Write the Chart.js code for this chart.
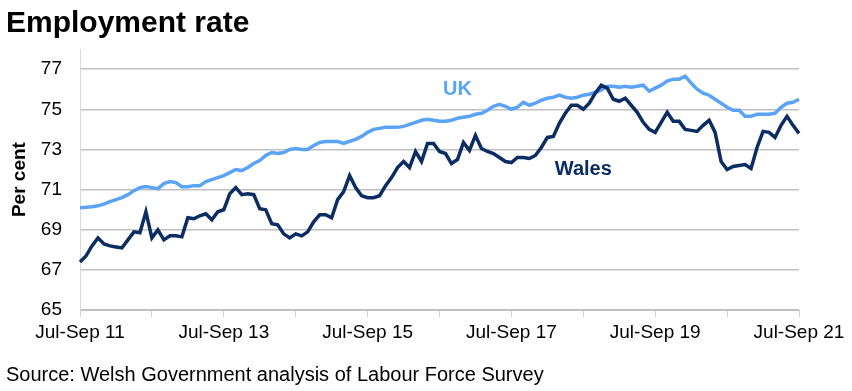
<!DOCTYPE html>
<html>
<head>
<meta charset="utf-8">
<script src="https://cdn.jsdelivr.net/npm/chart.js@4"></script>
<style>
  body { margin: 0; background: #fff; }
  #wrap { width: 852px; height: 391px; }
</style>
</head>
<body>
<div id="wrap"><canvas id="employment_chart" width="852" height="391"></canvas></div>
<script>
  // rolling three-month periods, Jul-Sep 2011 to Jul-Sep 2021
  const periods = ['Jul-Sep', 'Aug-Oct', 'Sep-Nov', 'Oct-Dec', 'Nov-Jan', 'Dec-Feb',
                   'Jan-Mar', 'Feb-Apr', 'Mar-May', 'Apr-Jun', 'May-Jul', 'Jun-Aug']
  const firstYear = 11
  const lastYear = 21

  const labels = []
  for (let y = firstYear; y <= lastYear; y++) {
    periods.forEach((p, i) => {
      if (y === lastYear && i > 0) return
      // periods ending in the next calendar year carry that year
      labels.push(p + ' ' + (i >= 4 ? y + 1 : y))
    })
  }

  const yTicks = [65, 67, 69, 71, 73, 75, 77]

  const wales = [
    67.4, 67.7, 68.2, 68.6, 68.3, 68.2, 68.15, 68.1, 68.5, 68.9,
    68.85, 69.9, 68.6, 69.0, 68.5, 68.7, 68.7, 68.65, 69.6, 69.55,
    69.7, 69.8, 69.5, 69.9, 70.0, 70.8, 71.1, 70.75, 70.8, 70.75,
    70.05, 70.0, 69.3, 69.25, 68.8, 68.6, 68.8, 68.7, 68.9, 69.4,
    69.75, 69.75, 69.6, 70.5, 70.9, 71.7, 71.1, 70.7, 70.6, 70.6,
    70.7, 71.2, 71.6, 72.1, 72.4, 72.1, 72.9, 72.4, 73.3, 73.3,
    72.9, 72.8, 72.3, 72.5, 73.35, 72.95, 73.7, 73.05, 72.9, 72.8,
    72.6, 72.4, 72.35, 72.6, 72.6, 72.55, 72.7, 73.1, 73.6, 73.65,
    74.3, 74.8, 75.2, 75.2, 75.0, 75.3, 75.8, 76.2, 76.05, 75.5,
    75.4, 75.55, 75.2, 74.85, 74.35, 74.0, 73.85, 74.35, 74.85, 74.4,
    74.4, 74.0, 73.95, 73.9, 74.2, 74.45, 73.85, 72.4, 72.0, 72.15,
    72.2, 72.25, 72.05, 73.1, 73.9, 73.85, 73.6, 74.2, 74.65, 74.2,
    73.8
  ]

  const uk = [
    70.1, 70.12, 70.15, 70.2, 70.28, 70.4, 70.5, 70.6, 70.75, 70.95,
    71.1, 71.15, 71.1, 71.05, 71.3, 71.4, 71.35, 71.15, 71.15, 71.2,
    71.2, 71.4, 71.5, 71.6, 71.7, 71.85, 72.0, 71.95, 72.1, 72.3,
    72.45, 72.7, 72.85, 72.8, 72.85, 73.0, 73.05, 73.0, 73.0, 73.2,
    73.35, 73.4, 73.4, 73.4, 73.3, 73.4, 73.5, 73.65, 73.85, 74.0,
    74.05, 74.1, 74.1, 74.1, 74.15, 74.25, 74.35, 74.45, 74.5, 74.45,
    74.4, 74.4, 74.45, 74.55, 74.6, 74.65, 74.75, 74.8, 74.95, 75.15,
    75.25, 75.15, 75.0, 75.1, 75.35, 75.2, 75.3, 75.45, 75.55, 75.6,
    75.7, 75.6, 75.55, 75.6, 75.7, 75.75, 75.85, 75.95, 76.15, 76.15,
    76.1, 76.15, 76.1, 76.15, 76.2, 75.9, 76.05, 76.2, 76.4, 76.5,
    76.5, 76.65, 76.3, 76.0, 75.8, 75.7, 75.5, 75.3, 75.1, 74.95,
    74.95, 74.65, 74.65, 74.75, 74.75, 74.75, 74.8, 75.1, 75.3, 75.35,
    75.5
  ]

  // series names written next to the lines
  const seriesTags = [
    { text: 'UK', at: 63, value: 76.0, color: '#5ba4f5' },
    { text: 'Wales', at: 84, value: 72.0, color: '#0b2d62' }
  ]

  const font = "'Liberation Sans', Arial, sans-serif"

  const lineTags = {
    id: 'lineTags',
    afterDatasetsDraw(chart) {
      const { ctx, scales: { x, y } } = chart
      ctx.save()
      ctx.font = 'bold 20px ' + font
      ctx.textAlign = 'center'
      ctx.textBaseline = 'middle'
      seriesTags.forEach(t => {
        ctx.fillStyle = t.color
        ctx.fillText(t.text, x.getPixelForValue(t.at), y.getPixelForValue(t.value))
      })
      ctx.restore()
    }
  }

  new Chart(
    document.getElementById('employment_chart'),
    {
      type: 'line',
      data: {
        labels: labels,
        datasets: [
          {
            label: 'Wales',
            data: wales,
            borderColor: '#0b2d62',
            backgroundColor: '#0b2d62',
            borderWidth: 3.5,
            pointRadius: 0,
            tension: 0
          },
          {
            label: 'UK',
            data: uk,
            borderColor: '#5ba4f5',
            backgroundColor: '#5ba4f5',
            borderWidth: 3.5,
            pointRadius: 0,
            tension: 0
          }
        ]
      },
      options: {
        responsive: false,
        animation: false,
        layout: { padding: { left: 6, right: 53, top: 0, bottom: 4 } },
        plugins: {
          legend: { display: false },
          tooltip: { enabled: false },
          title: {
            display: true,
            text: 'Employment rate',
            align: 'start',
            color: '#000',
            font: { family: font, size: 30, weight: 'bold' },
            padding: { top: 6, bottom: 7 }
          },
          subtitle: {
            display: true,
            position: 'bottom',
            text: 'Source: Welsh Government analysis of Labour Force Survey',
            align: 'start',
            color: '#000',
            font: { family: font, size: 20 },
            padding: { top: 15, bottom: 0 }
          }
        },
        scales: {
          x: {
            ticks: {
              autoSkip: false,
              maxRotation: 0,
              padding: 4,
              color: '#000',
              font: { family: font, size: 19 },
              callback: (v, i) => i % 24 === 0 ? labels[i] : ''
            },
            grid: {
              drawOnChartArea: false,
              tickLength: 7,
              color: ctx => ctx.index % 12 === 0 ? '#d4d4d4' : 'rgba(0,0,0,0)'
            },
            border: { color: '#bfbfbf' }
          },
          y: {
            min: 65,
            max: 78,
            afterBuildTicks: s => { s.ticks = yTicks.map(v => ({ value: v })) },
            afterFit: s => { s.width = 74 },
            ticks: {
              padding: 18,
              color: '#000',
              font: { family: font, size: 19 }
            },
            grid: { drawTicks: false, color: '#c0c0c0', lineWidth: 1.5 },
            border: { color: '#d9d9d9' },
            title: {
              display: true,
              text: 'Per cent',
              color: '#000',
              font: { family: font, size: 19, weight: 'bold' },
              padding: { top: 2, bottom: 10 }
            }
          }
        }
      },
      plugins: [lineTags]
    }
  );
</script>
</body>
</html>
